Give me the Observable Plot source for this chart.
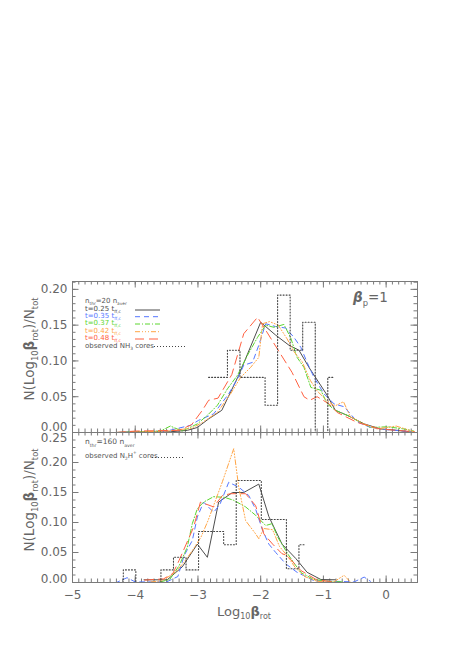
<!DOCTYPE html>
<html><head><meta charset="utf-8">
<script src="https://cdn.jsdelivr.net/npm/d3@7"></script>
<script src="https://cdn.jsdelivr.net/npm/@observablehq/plot@0.6"></script>
<style>
body{margin:0;background:#fff;}
#wrap{position:relative;width:460px;height:651px;background:#fff;font-family:"DejaVu Sans",sans-serif;color:#666;overflow:hidden;}
#wrap svg.panel{position:absolute;left:0;overflow:visible;}
.t{position:absolute;white-space:nowrap;line-height:1;transform:translateY(-50%);}
.t sub,.t sup{font-size:0.62em;line-height:0;}
.rot{position:absolute;white-space:nowrap;line-height:1;transform:translate(-50%,-50%) rotate(-90deg);}
.rot sub,.cx sub{font-size:0.62em;line-height:0;}
.cx{position:absolute;white-space:nowrap;line-height:1;transform:translate(-50%,-50%);}
</style></head><body><div id="wrap"></div>
<script>
// ---------- axes / ticks ----------
const xDomain = [-5, 0.5];
const topYDomain = [0, 0.211];
const botYDomain = [0, 0.25];
const xTickLabels = [-5, -4, -3, -2, -1, 0];
const topYTicks = [0, 0.05, 0.10, 0.15, 0.20];
const botYTicks = [0, 0.05, 0.10, 0.15, 0.20, 0.25];

// ---------- top panel (n_thr = 20 n_aver), simulation curves ----------
const topX_t025 = [-4.3, -4.03, -3.44, -3.17, -3.01, -2.83, -2.62, -2.35, -2.00, -1.76, -1.55, -1.39, -1.23, -0.94, -0.81, -0.62, -0.35, -0.09, 0.18, 0.44];
const topY_t025 = [0.0, 0.001, 0.001, 0.003, 0.007, 0.019, 0.031, 0.080, 0.154, 0.136, 0.122, 0.115, 0.091, 0.052, 0.031, 0.024, 0.012, 0.005, 0.003, 0.0];

const topX_t035 = [-4.3, -3.5, -3.12, -2.99, -2.75, -2.51, -2.37, -2.27, -2.13, -2.03, -1.92, -1.76, -1.60, -1.47, -1.36, -1.26, -1.15, -0.99, -0.83, -0.67, -0.46, -0.25, 0.0, 0.28, 0.44];
const topY_t035 = [0.0, 0.002, 0.010, 0.017, 0.026, 0.054, 0.075, 0.094, 0.098, 0.122, 0.152, 0.148, 0.146, 0.133, 0.119, 0.098, 0.077, 0.054, 0.040, 0.036, 0.015, 0.007, 0.004, 0.002, 0.0];

const topX_t037 = [-4.3, -3.6, -3.44, -3.25, -3.01, -2.85, -2.69, -2.53, -2.37, -2.21, -2.05, -1.92, -1.79, -1.63, -1.52, -1.42, -1.31, -1.20, -1.04, -0.94, -0.81, -0.62, -0.25, 0.02, 0.28, 0.44];
const topY_t037 = [0.0, 0.002, 0.009, 0.002, 0.012, 0.024, 0.038, 0.061, 0.080, 0.108, 0.133, 0.150, 0.147, 0.151, 0.132, 0.105, 0.091, 0.063, 0.059, 0.040, 0.031, 0.024, 0.007, 0.008, 0.005, 0.002];

const topX_t042 = [-4.3, -3.5, -3.1, -2.93, -2.69, -2.48, -2.32, -2.16, -2.03, -1.97, -1.86, -1.72, -1.58, -1.47, -1.34, -1.21, -1.10, -0.95, -0.82, -0.68, -0.57, -0.35, -0.15, 0.16, 0.45];
const topY_t042 = [0.0, 0.002, 0.006, 0.014, 0.028, 0.054, 0.077, 0.091, 0.105, 0.152, 0.155, 0.150, 0.131, 0.113, 0.099, 0.073, 0.058, 0.045, 0.037, 0.043, 0.022, 0.012, 0.005, 0.009, 0.001];

const topX_t048 = [-4.3, -4.0, -3.3, -3.10, -2.93, -2.83, -2.68, -2.46, -2.27, -2.05, -1.92, -1.70, -1.50, -1.31, -1.22, -1.10, -0.91, -0.78, -0.46, -0.10, 0.45];
const topY_t048 = [0.0, 0.002, 0.003, 0.011, 0.031, 0.045, 0.048, 0.081, 0.138, 0.161, 0.143, 0.112, 0.084, 0.050, 0.045, 0.050, 0.040, 0.028, 0.014, 0.005, 0.001];

// observed NH3 cores (histogram, bin centres)
const obsNH3_x = [-2.83, -2.63, -2.43, -2.23, -2.03, -1.83, -1.63, -1.43, -1.23, -1.03, -0.83];
const obsNH3_y = [0.077, 0.077, 0.115, 0.077, 0.077, 0.038, 0.192, 0.115, 0.154, 0.0, 0.077];

// ---------- bottom panel (n_thr = 160 n_aver) ----------
const botX_t025 = [-3.86, -3.49, -3.25, -3.01, -2.85, -2.67, -2.45, -2.27, -2.03, -1.87, -1.66, -1.44, -1.26, -1.04, -0.81];
const botY_t025 = [0.0045, 0.0045, 0.026, 0.064, 0.042, 0.134, 0.150, 0.150, 0.164, 0.110, 0.064, 0.040, 0.017, 0.005, 0.0045];

const botX_t035 = [-4.9, -4.3, -4.13, -4.0, -3.5, -3.32, -3.22, -3.09, -3.01, -2.91, -2.75, -2.65, -2.51, -2.35, -2.19, -2.08, -1.97, -1.87, -1.76, -1.60, -1.42, -1.15, -0.51, -0.35, -0.25];
const botY_t035 = [0.0, 0.0, 0.008, 0.001, 0.001, 0.010, 0.045, 0.070, 0.109, 0.134, 0.117, 0.130, 0.167, 0.159, 0.145, 0.122, 0.087, 0.064, 0.050, 0.031, 0.017, 0.003, 0.001, 0.009, 0.002];

const botX_t037 = [-3.6, -3.45, -3.30, -3.17, -3.09, -3.01, -2.91, -2.75, -2.58, -2.43, -2.24, -2.08, -1.92, -1.82, -1.73, -1.57, -1.46, -1.35, -1.15, -0.90, -0.70];
const botY_t037 = [0.001, 0.005, 0.028, 0.059, 0.098, 0.123, 0.134, 0.143, 0.142, 0.137, 0.126, 0.112, 0.095, 0.098, 0.076, 0.048, 0.031, 0.016, 0.005, 0.002, 0.001];

const botX_t042 = [-3.75, -3.57, -3.36, -3.22, -3.09, -2.95, -2.84, -2.61, -2.43, -2.35, -2.24, -2.08, -2.03, -1.95, -1.81, -1.70, -1.58, -1.45, -1.30, -1.10, -0.85, -0.67, -0.58];
const botY_t042 = [0.001, 0.003, 0.017, 0.034, 0.053, 0.076, 0.103, 0.168, 0.223, 0.159, 0.103, 0.081, 0.073, 0.090, 0.088, 0.060, 0.045, 0.025, 0.010, 0.002, 0.0, 0.012, 0.002];

const botX_t048 = [-3.85, -3.55, -3.40, -3.30, -3.07, -2.96, -2.75, -2.61, -2.48, -2.24, -2.08, -1.95, -1.81, -1.66, -1.58, -1.36, -1.10, -0.80];
const botY_t048 = [0.004, 0.006, 0.015, 0.037, 0.092, 0.134, 0.126, 0.145, 0.148, 0.148, 0.128, 0.081, 0.064, 0.048, 0.045, 0.020, 0.004, 0.001];

// observed N2H+ cores (histogram, bin centres)
const obsN2H_x = [-4.29, -4.09, -3.89, -3.69, -3.49, -3.29, -3.09, -2.89, -2.69, -2.49, -2.29, -2.09, -1.89, -1.69, -1.49, -1.29];
const obsN2H_y = [0.0, 0.021, 0.0, 0.0, 0.021, 0.042, 0.021, 0.085, 0.085, 0.063, 0.170, 0.170, 0.105, 0.105, 0.023, 0.063];

// ---------- styles ----------
const FRAME = "#7a7a7a";
const TEXT = "#666";
const seriesStyle = [
  {label: "t=0.25", color: "#4d4d4d", dash: null},
  {label: "t=0.35", color: "#5577ff", dash: "5,4"},
  {label: "t=0.37", color: "#5cd630", dash: "5,2,1,2"},
  {label: "t=0.42", color: "#ffa545", dash: "5,2,1,2,1,2,1,2"},
  {label: "t=0.48", color: "#ff6040", dash: "9,5"}
];
const topSeries = [[topX_t025, topY_t025], [topX_t035, topY_t035], [topX_t037, topY_t037], [topX_t042, topY_t042], [topX_t048, topY_t048]];
const botSeries = [[botX_t025, botY_t025], [botX_t035, botY_t035], [botX_t037, botY_t037], [botX_t042, botY_t042], [botX_t048, botY_t048]];

const W = 460, ML = 72, MR = 43;
const fmt = d3.format(".2f");

function panel({height, marginTop, marginBottom, yDomain, yTicks, yMinorStep, series, obsX, obsY, xLabels, zeroDy, topDy}) {
  const PH = height - marginTop - marginBottom;
  const PW = W - ML - MR;
  const xMinor = d3.range(-50, 6).map(i => i / 10);
  const xMajor = d3.range(-5, 1);
  const nMinor = Math.round(yDomain[1] / yMinorStep + 1e-6);
  const yMinor = d3.range(0, nMinor + 1).map(i => i * yMinorStep);
  const tk = {stroke: FRAME, strokeWidth: 1};
  const marks = [
    Plot.tickX(xMinor, {x: d => d, insetTop: PH - 3.5, ...tk}),
    Plot.tickX(xMinor, {x: d => d, insetBottom: PH - 3.5, ...tk}),
    Plot.tickX(xMajor, {x: d => d, insetTop: PH - 6.5, ...tk}),
    Plot.tickX(xMajor, {x: d => d, insetBottom: PH - 6.5, ...tk}),
    Plot.tickY(yMinor, {y: d => d, insetRight: PW - 3.5, ...tk}),
    Plot.tickY(yMinor, {y: d => d, insetLeft: PW - 3.5, ...tk}),
    Plot.tickY(yTicks, {y: d => d, insetRight: PW - 6.5, ...tk}),
    Plot.tickY(yTicks, {y: d => d, insetLeft: PW - 6.5, ...tk})
  ];
  series.forEach(([xs, ys], i) => {
    const s = seriesStyle[i];
    marks.push(Plot.line(ys, {x: xs, y: ys, stroke: s.color, strokeWidth: 1, strokeDasharray: s.dash || undefined}));
  });
  marks.push(Plot.line(obsY, {x: obsX, y: obsY, curve: "step", stroke: "#444", strokeWidth: 1.1, strokeDasharray: "1,2"}));
  const inner = yTicks.filter((v, i) => i > 0 && i < yTicks.length - 1);
  marks.push(Plot.axisY(inner, {anchor: "left", tickSize: 0, tickPadding: 5, tickFormat: fmt, label: null}));
  marks.push(Plot.axisY([yTicks[0]], {anchor: "left", tickSize: 0, tickPadding: 5, tickFormat: fmt, label: null, dy: zeroDy}));
  marks.push(Plot.axisY([yTicks[yTicks.length - 1]], {anchor: "left", tickSize: 0, tickPadding: 5, tickFormat: fmt, label: null, dy: topDy}));
  if (xLabels) marks.push(Plot.axisX(xLabels, {anchor: "bottom", tickSize: 0, tickPadding: 8, label: null}));
  marks.push(Plot.frame({stroke: FRAME, strokeWidth: 1}));
  const svg = Plot.plot({
    width: W, height, marginTop, marginBottom, marginLeft: ML, marginRight: MR,
    x: {domain: xDomain, axis: null},
    y: {domain: yDomain, axis: null},
    style: {background: "transparent", color: TEXT, fontFamily: "DejaVu Sans, sans-serif", fontSize: "12px", overflow: "visible"},
    marks
  });
  svg.classList.add("panel");
  return svg;
}

const wrap = document.getElementById("wrap");
const topSvg = panel({height: 432, marginTop: 281, marginBottom: 0, yDomain: topYDomain, yTicks: topYTicks, yMinorStep: 0.01, series: topSeries, obsX: obsNH3_x, obsY: obsNH3_y, xLabels: null, zeroDy: -5.5, topDy: 0});
topSvg.style.top = "0px";
wrap.appendChild(topSvg);
const botSvg = panel({height: 219, marginTop: 0, marginBottom: 69, yDomain: botYDomain, yTicks: botYTicks, yMinorStep: 0.0125, series: botSeries, obsX: obsN2H_x, obsY: obsN2H_y, xLabels: xTickLabels, zeroDy: -3, topDy: 5.5});
botSvg.style.top = "432px";
wrap.appendChild(botSvg);

// ---------- text overlays ----------
function addDiv(cls, html, left, top, size, color) {
  const d = document.createElement("div");
  d.className = cls;
  d.innerHTML = html;
  d.style.left = left + "px";
  d.style.top = top + "px";
  d.style.fontSize = size + "px";
  d.style.color = color || TEXT;
  wrap.appendChild(d);
  return d;
}
const yTitle = "N(Log<sub>10</sub><b>β</b><sub>rot</sub>)/N<sub>tot</sub>";
addDiv("rot", yTitle, 30, 349, 13.5);
addDiv("rot", yTitle, 30, 500, 13.5);
addDiv("cx", "Log<sub>10</sub><b>β</b><sub>rot</sub>", 244, 611, 13);
addDiv("t", "<b><i>β</i></b><sub>p</sub>=1", 353, 298, 13.5);

// legend texts (top panel)
addDiv("t", "n<sub>thr</sub>=20 n<sub>aver</sub>", 85, 301, 7, "#555");
const legendRows = [308.5, 316, 323.3, 330.7, 338.2];
seriesStyle.forEach((s, i) => {
  addDiv("t", s.label + " t<sub>ff,c</sub>", 85, legendRows[i], 7, s.color);
});
addDiv("t", "observed NH<sub>3</sub> cores", 85, 345.8, 7, "#555");
// legend texts (bottom panel)
addDiv("t", "n<sub>thr</sub>=160 n<sub>aver</sub>", 85, 441.5, 7.5, "#555");
addDiv("t", "observed N<sub>2</sub>H<sup>+</sup> cores", 85, 455.5, 7, "#555");

// legend line samples
const ns = "http://www.w3.org/2000/svg";
const lg = document.createElementNS(ns, "svg");
lg.setAttribute("width", W); lg.setAttribute("height", 651);
lg.style.position = "absolute"; lg.style.left = "0"; lg.style.top = "0";
function seg(x1, x2, y, color, dash, sw) {
  const l = document.createElementNS(ns, "line");
  l.setAttribute("x1", x1); l.setAttribute("x2", x2);
  l.setAttribute("y1", y); l.setAttribute("y2", y);
  l.setAttribute("stroke", color); l.setAttribute("stroke-width", sw || 1);
  if (dash) l.setAttribute("stroke-dasharray", dash);
  lg.appendChild(l);
}
const sampleY = [310, 316.7, 324, 331.7, 339];
seriesStyle.forEach((s, i) => seg(135, 160, sampleY[i], s.color, s.dash, 1));
seg(154, 185, 346.5, "#444", "1,2", 1.1);
seg(152, 185, 457.5, "#444", "1,2", 1.1);
wrap.appendChild(lg);
</script></body></html>
